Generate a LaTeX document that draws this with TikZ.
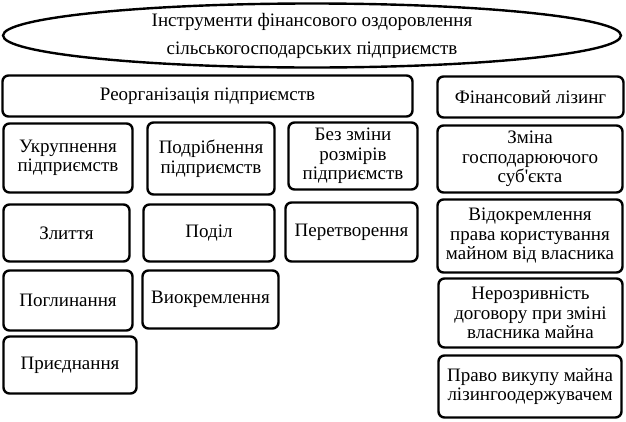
\documentclass[tikz,border=0pt]{standalone}
\usepackage{fontspec}
\setmainfont{Liberation Serif}[Ligatures=TeXOff]
\usetikzlibrary{shapes.geometric}
\begin{document}
\begin{tikzpicture}[x=1pt,y=-1pt,
  box/.style={draw,line width=2.4pt,rounded corners=6pt,align=center,inner sep=1pt,
    font=\fontsize{19}{19.5}\selectfont},
  oval/.style={ellipse,draw,line width=2.4pt,align=center,inner sep=0pt,
    font=\fontsize{19}{28}\selectfont}]
  \useasboundingbox (0,0) rectangle (626,421);
  % top level
  \node[oval,minimum width=618pt,minimum height=64pt] (root) at (312,35.5) {Інструменти фінансового оздоровлення\\сільськогосподарських підприємств};
  \node[box,minimum width=410pt,minimum height=41pt] (reorg) at (207.5,96) {Реорганізація підприємств};
  \node[box,minimum width=186pt,minimum height=41pt] (lizing) at (530.5,97) {Фінансовий лізинг};

  % reorganisation
  \node[box,minimum width=129pt,minimum height=69pt] (ukr) at (68,158) {Укрупнення\\підприємств};
  \node[box,minimum width=127pt,minimum height=72pt] (podr) at (211,158.5) {Подрібнення\\підприємств};
  \node[box,minimum width=129pt,minimum height=67pt] (bez) at (353,156) {Без зміни\\розмірів\\підприємств};
  \node[box,minimum width=126pt,minimum height=57pt] (zlyttia) at (66.5,233) {Злиття};
  \node[box,minimum width=131pt,minimum height=57pt] (podil) at (209,233) {Поділ};
  \node[box,minimum width=132pt,minimum height=59pt] (peretv) at (351.5,232) {Перетворення};
  \node[box,minimum width=129pt,minimum height=60pt] (poglyn) at (68,300.5) {Поглинання};
  \node[box,minimum width=136pt,minimum height=58pt] (vyokr) at (210.5,299.5) {Виокремлення};
  \node[box,minimum width=133pt,minimum height=57pt] (pryedn) at (70,365) {Приєднання};

  % leasing
  \node[box,minimum width=185pt,minimum height=67pt] (zmina) at (530,159) {Зміна\\господарюючого\\суб'єкта};
  \node[box,minimum width=185pt,minimum height=73pt] (vidokr) at (530,236) {Відокремлення\\права користування\\майном від власника};
  \node[box,minimum width=184pt,minimum height=69pt] (nerozr) at (530.5,313) {Нерозривність\\договору при зміні\\власника майна};
  \node[box,minimum width=183pt,minimum height=62pt] (pravo) at (530,386.5) {Право викупу майна\\лізингоодержувачем};
\end{tikzpicture}
\end{document}
